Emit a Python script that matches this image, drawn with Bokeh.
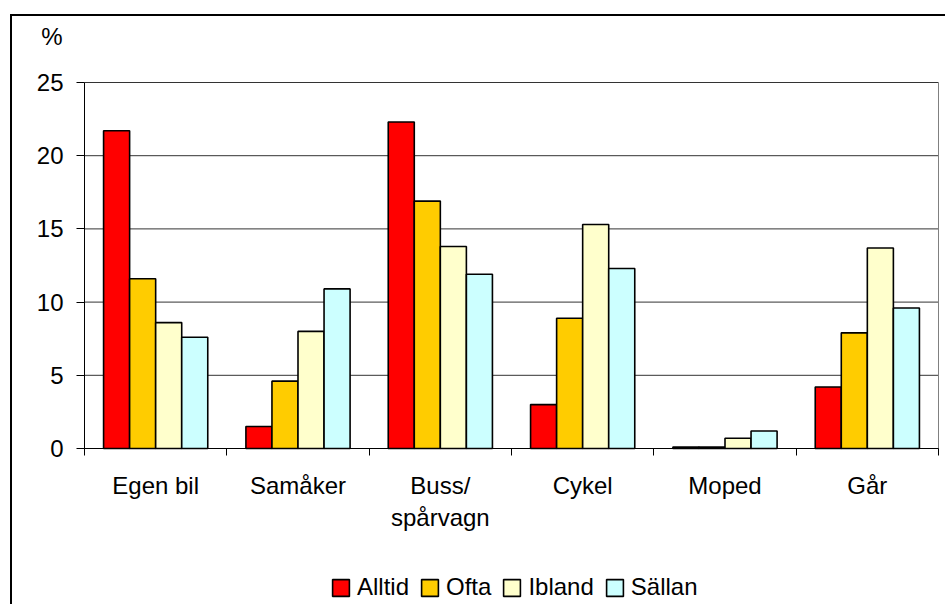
from bokeh.plotting import figure
from bokeh.models import ColumnDataSource, Range1d, FixedTicker, Legend, LegendItem, Label
from bokeh.transform import dodge
from bokeh.embed import file_html
from bokeh.resources import INLINE

# ---- data ----
categories = ["Egen bil", "Samåker", "Buss/\nspårvagn", "Cykel", "Moped", "Går"]
series_names = ["Alltid", "Ofta", "Ibland", "Sällan"]
alltid = [21.7, 1.5, 22.3, 3.0, 0.1, 4.2]
ofta = [11.6, 4.6, 16.9, 8.9, 0.1, 7.9]
ibland = [8.6, 8.0, 13.8, 15.3, 0.7, 13.7]
sallan = [7.6, 10.9, 11.9, 12.3, 1.2, 9.6]
colors = ["#FF0000", "#FFCC00", "#FFFFCC", "#CCFFFF"]
y_ticks = [0, 5, 10, 15, 20, 25]
y_unit = "%"

# ---- layout (pixels in the page) ----
FONT = "Liberation Sans"
FS = "24px"
CANVAS_L, CANVAS_T = 12, 16
W, H = 935, 590
PLOT_L, PLOT_R, PLOT_T, PLOT_B = 84, 938, 82, 448

n = len(categories)
y_top = y_ticks[-1]
x_px = (PLOT_R - PLOT_L) / n
y_px = (PLOT_B - PLOT_T) / y_top
x_lo = (CANVAS_L - PLOT_L) / x_px
x_hi = n + (CANVAS_L + W - PLOT_R) / x_px
y_lo = -(CANVAS_T + H - PLOT_B) / y_px
y_hi = y_top + (PLOT_T - CANVAS_T) / y_px

positions = [i + 0.5 for i in range(n)]
boundaries = list(range(n + 1))

src = ColumnDataSource(dict(x=positions, Alltid=alltid, Ofta=ofta, Ibland=ibland, Sallan=sallan))
cols = ["Alltid", "Ofta", "Ibland", "Sallan"]

p = figure(width=W, height=H, output_backend="svg", toolbar_location=None,
           x_range=Range1d(x_lo, x_hi), y_range=Range1d(y_lo, y_hi),
           min_border=0, min_border_left=0, min_border_right=0,
           min_border_top=0, min_border_bottom=0)
p.styles = {"margin-left": "10px", "margin-top": "14px",
            "border-left": "2px solid black", "border-top": "2px solid black"}
p.outline_line_color = None
p.xgrid.visible = False
p.ygrid.visible = False

# horizontal gridlines and right edge of the plot area
p.segment(x0=[0] * len(y_ticks), x1=[n] * len(y_ticks), y0=y_ticks, y1=y_ticks,
          line_color="#333333", line_width=1)
p.segment(x0=[n], x1=[n], y0=[0], y1=[y_top], line_color="#808080", line_width=1)

bar_w = 0.183
renderers = []
for k, (col, color) in enumerate(zip(cols, colors)):
    off = (k - 1.5) * bar_w
    r = p.vbar(x=dodge("x", off), top=col, width=bar_w, source=src,
               fill_color=color, line_color="black", line_width=1.6)
    renderers.append(r)

# x axis
xa = p.xaxis[0]
xa.fixed_location = 0
xa.bounds = (0, n)
xa.ticker = FixedTicker(ticks=positions, minor_ticks=boundaries)
xa.major_label_overrides = {pos: cat for pos, cat in zip(positions, categories)}
xa.major_tick_line_color = None
xa.major_tick_out = 0
xa.major_tick_in = 0
xa.minor_tick_line_color = "black"
xa.minor_tick_out = 7
xa.minor_tick_in = 0
xa.axis_line_color = "black"
xa.major_label_text_font = FONT
xa.major_label_text_font_size = FS
xa.major_label_text_color = "black"
xa.major_label_standoff = 16
xa.major_label_text_line_height = 1.2

# y axis
ya = p.yaxis[0]
ya.fixed_location = 0
ya.bounds = (0, y_top)
ya.ticker = FixedTicker(ticks=y_ticks)
ya.major_tick_out = 8
ya.major_tick_in = 0
ya.minor_tick_line_color = None
ya.axis_line_color = "black"
ya.major_tick_line_color = "black"
ya.major_label_text_font = FONT
ya.major_label_text_font_size = FS
ya.major_label_text_color = "black"
ya.major_label_standoff = 13

# unit label above the y tick labels
p.add_layout(Label(x=(51.5 - PLOT_L) / x_px, y=y_top + (PLOT_T - 36) / y_px, text=y_unit,
                   text_font=FONT, text_font_size=FS, text_color="black",
                   text_align="center", text_baseline="middle"))

legend = Legend(items=[LegendItem(label=name, renderers=[r]) for name, r in zip(series_names, renderers)],
                orientation="horizontal", location=(330 - CANVAS_L, 5),
                glyph_width=21, glyph_height=21, label_height=21,
                label_text_font=FONT, label_text_font_size=FS, label_text_color="black",
                label_standoff=6, spacing=10, padding=0, margin=0,
                border_line_color=None, background_fill_alpha=0)
p.add_layout(legend, "center")

open("out.html", "w").write(file_html(p, INLINE))
